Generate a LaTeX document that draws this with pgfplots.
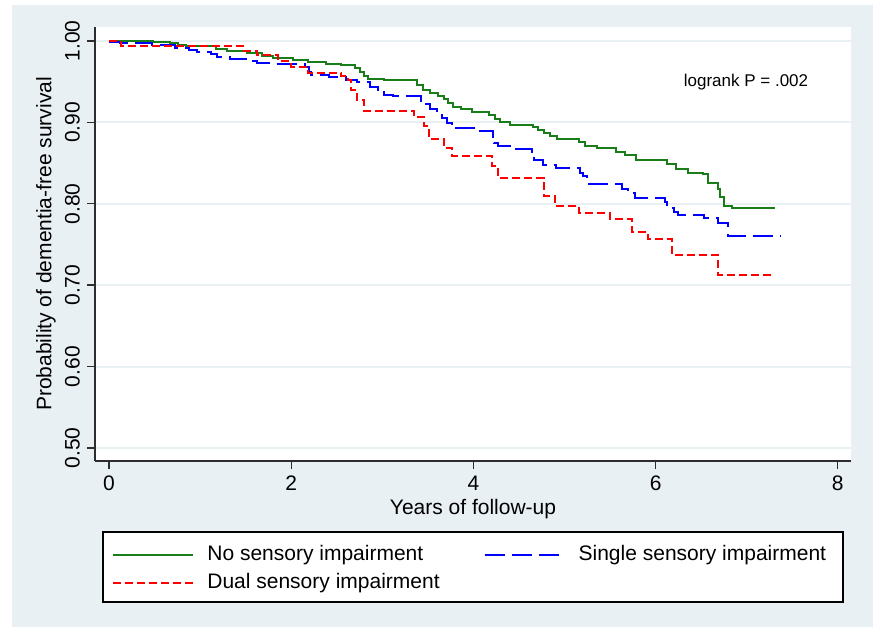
\documentclass[border=0pt]{standalone}
\usepackage{fontspec}
\setmainfont{Liberation Sans}
\usepackage{pgfplots}
\pgfplotsset{compat=1.18}
\definecolor{bgc}{RGB}{233,240,243}
\definecolor{kmgreen}{RGB}{25,125,25}
\definecolor{kmblue}{RGB}{0,0,255}
\definecolor{kmred}{RGB}{255,0,0}
\definecolor{axc}{RGB}{45,45,45}
\newcommand{\fs}{\fontsize{10.5}{12}\selectfont}

\begin{document}
\begin{tikzpicture}
\fill[white] (0,0) rectangle (436.5pt,313.5pt);
\fill[bgc] (6pt,0) rectangle (436.5pt,311pt);
% legend frame
\draw[black, line width=0.7pt, fill=white] (51.5pt,12.5pt) rectangle (421.5pt,47.5pt);
\begin{axis}[
  at={(47.5pt,83pt)}, anchor=south west,
  scale only axis, width=378pt, height=217pt,
  xmin=-0.154, xmax=8.145, ymin=0.484, ymax=1.0172,
  axis x line*=bottom, axis y line*=left,
  axis line style={axc, line width=0.8pt, -},
  axis background/.style={fill=white},
  xtick={0,2,4,6,8}, ytick={0.5,0.6,0.7,0.8,0.9,1.0},
  tick align=outside, major tick length=4pt,
  tick style={axc, line width=0.7pt},
  ymajorgrids, grid style={bgc, line width=1pt},
  /pgf/number format/assume math mode=true,
  ticklabel style={font=\fs},
  yticklabel style={rotate=90, anchor=south,
    /pgf/number format/.cd, fixed, fixed zerofill, precision=2},
  xlabel={Years of follow-up},
  ylabel={Probability of dementia-free survival},
  every axis x label/.style={at={(axis description cs:0.5,-0.1106)}, anchor=center, font=\fs},
  every axis y label/.style={at={(axis description cs:-0.0648,0.5)}, rotate=90, anchor=center, font=\fs},
  legend columns=2, legend cell align=left,
  legend image code/.code={\draw[#1] (0pt,0pt) -- (40pt,0pt);},
  legend style={draw=none, fill=none, at={(0.02249,-0.1935)}, anchor=north west,
    font=\fs, inner sep=0pt, row sep=4.5pt,
    nodes={inner sep=0pt, text height=7.5pt, text depth=2.2pt},
    /tikz/every odd column/.append style={column sep=6.5pt},
    /tikz/every even column/.append style={column sep=22pt}},
]
\addplot[kmgreen, line width=1pt, const plot, solid] coordinates {
(0,1.000) (0.48,0.9992) (0.67,0.9975) (0.76,0.9947) (0.85,0.9935) (1.17,0.9906)
(1.30,0.9873) (1.52,0.9853) (1.68,0.9812) (1.80,0.9796) (2.02,0.9771) (2.18,0.9743)
(2.38,0.9722) (2.55,0.9702) (2.70,0.9669) (2.76,0.962) (2.80,0.957) (2.84,0.9538)
(3.02,0.9526) (3.08,0.9516) (3.38,0.946) (3.45,0.940) (3.52,0.936) (3.61,0.933)
(3.68,0.929) (3.72,0.924) (3.78,0.919) (3.86,0.916) (3.98,0.913) (4.17,0.909)
(4.24,0.904) (4.29,0.900) (4.40,0.897) (4.65,0.894) (4.71,0.891) (4.78,0.887)
(4.84,0.8836) (4.92,0.880) (5.16,0.876) (5.22,0.871) (5.36,0.868) (5.57,0.864)
(5.66,0.860) (5.78,0.854) (6.12,0.849) (6.22,0.843) (6.36,0.838) (6.52,0.836)
(6.57,0.8254) (6.68,0.818) (6.71,0.808) (6.75,0.7975) (6.84,0.7947) (7.31,0.7947)
};
\addlegendentry{No sensory impairment}
\addplot[kmblue, line width=1pt, const plot, dash pattern=on 10pt off 3.5pt] coordinates {
(0,0.9984) (0.12,0.9975) (0.47,0.9947) (0.72,0.9918) (0.88,0.9894) (0.97,0.9865)
(1.12,0.9837) (1.19,0.9804) (1.33,0.9775) (1.54,0.9755) (1.62,0.973) (1.84,0.9722)
(2.15,0.968) (2.19,0.962) (2.22,0.9587) (2.42,0.956) (2.60,0.9526) (2.72,0.950)
(2.87,0.9436) (2.95,0.9387) (3.02,0.934) (3.12,0.932) (3.42,0.926) (3.46,0.922)
(3.52,0.916) (3.60,0.9115) (3.66,0.905) (3.71,0.899) (3.76,0.893) (4.05,0.889)
(4.21,0.880) (4.23,0.8746) (4.27,0.8705) (4.47,0.8676) (4.64,0.860) (4.67,0.854)
(4.76,0.848) (4.91,0.8439) (5.17,0.838) (5.20,0.8336) (5.25,0.824) (5.63,0.818)
(5.70,0.813) (5.77,0.807) (6.10,0.802) (6.13,0.7947) (6.20,0.790) (6.25,0.7865)
(6.53,0.7824) (6.69,0.776) (6.79,0.7607) (7.37,0.7607)
};
\addlegendentry{Single sensory impairment}
\addplot[kmred, line width=1pt, const plot, dash pattern=on 4pt off 2pt] coordinates {
(0,1.000) (0.13,0.9935) (1.48,0.9873) (1.62,0.9824) (1.85,0.975) (2.00,0.968)
(2.18,0.961) (2.55,0.957) (2.62,0.952) (2.66,0.940) (2.72,0.927) (2.80,0.914)
(3.35,0.907) (3.46,0.895) (3.51,0.880) (3.68,0.8684) (3.76,0.859) (4.20,0.846)
(4.27,0.8316) (4.77,0.810) (4.90,0.7967) (5.16,0.7885) (5.50,0.7811) (5.74,0.7648)
(5.92,0.757) (6.18,0.7373) (6.68,0.7127) (7.28,0.7127)
};
\addlegendentry{Dual sensory impairment}
\end{axis}
\node[font=\fontsize{8.5}{10}\selectfont, inner sep=0pt] at (373pt,272.5pt) {logrank P = .002};
\pgfresetboundingbox
\path[use as bounding box] (0,0) rectangle (436.5pt,313.5pt);
\end{tikzpicture}
\end{document}
